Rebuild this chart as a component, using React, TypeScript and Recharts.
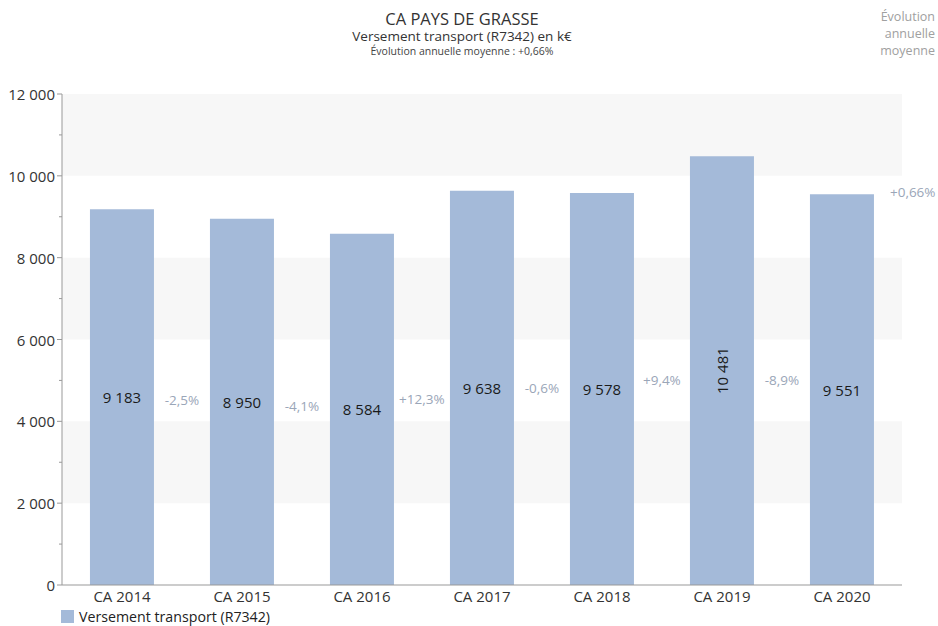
import React from 'react';
import { BarChart, Bar, XAxis, YAxis, ReferenceArea, LabelList } from 'recharts';

const categories = ['CA 2014', 'CA 2015', 'CA 2016', 'CA 2017', 'CA 2018', 'CA 2019', 'CA 2020'];
const values = [9183, 8950, 8584, 9638, 9578, 10481, 9551];
const evolutions = ['-2,5%', '-4,1%', '+12,3%', '-0,6%', '+9,4%', '-8,9%'];
const averageEvolution = '+0,66%';
const yTicks = [0, 1000, 2000, 3000, 4000, 5000, 6000, 7000, 8000, 9000, 10000, 11000, 12000];
const bands = [
  [2000, 4000],
  [6000, 8000],
  [10000, 12000],
];

const data = categories.map((name, i) => ({ name, value: values[i] }));

const FONT = '"Open Sans", "DejaVu Sans", sans-serif';
const BAR_COLOR = '#a4bad9';
const EVO_COLOR = '#9aa6b8';
const AXIS_COLOR = '#999';
const GAP = 0.233;
const TICK_SIZE = 5;
const TICK_MARGIN = 2;

const fmt = (v: number) => String(v).replace(/\B(?=(\d{3})+(?!\d))/g, ' ');

const YTick = (props: any) => {
  const { x, y, payload } = props;
  const v = payload.value as number;
  const major = v % 2000 === 0;
  const right = x + TICK_MARGIN + TICK_SIZE;
  return (
    <g>
      <line x1={right - (major ? TICK_SIZE : 3)} x2={right} y1={y} y2={y} stroke={AXIS_COLOR} />
      {major && (
        <text x={x} y={y} textAnchor="end" dominantBaseline="central" fontSize={15} fontFamily={FONT} fill="#333">
          {fmt(v)}
        </text>
      )}
    </g>
  );
};

const BarLabels = (props: any) => {
  const { x, y, width, height, value, index } = props;
  const cx = x + width / 2;
  const cy = y + height / 2;
  const text = fmt(value);
  const rotate = value >= 10000;
  const band = width / (1 - 2 * GAP);
  const bottom = y + height;
  const ppu = height / value;
  const out: React.ReactNode[] = [];
  out.push(
    <text
      key="v"
      x={cx}
      y={cy}
      textAnchor="middle"
      dominantBaseline="central"
      fontSize={15}
      fontFamily={FONT}
      fill="#1a1a1a"
      transform={rotate ? `rotate(-90 ${cx} ${cy})` : undefined}
    >
      {text}
    </text>
  );
  if (index < values.length - 1) {
    const next = values[index + 1];
    const ey = bottom - ((value + next) / 4) * ppu;
    out.push(
      <text
        key="e"
        x={cx + band / 2}
        y={ey}
        textAnchor="middle"
        dominantBaseline="central"
        fontSize={13.5}
        fontFamily={FONT}
        fill={EVO_COLOR}
      >
        {evolutions[index]}
      </text>
    );
  } else {
    out.push(
      <text
        key="a"
        x={x + width + 16}
        y={y - 2}
        textAnchor="start"
        dominantBaseline="central"
        fontSize={13.5}
        fontFamily={FONT}
        fill={EVO_COLOR}
      >
        {averageEvolution}
      </text>
    );
  }
  return <g>{out}</g>;
};

const lineStyle = (top: number, fs: number, color: string): React.CSSProperties => ({
  position: 'absolute',
  left: 212,
  width: 500,
  top,
  textAlign: 'center',
  fontSize: fs,
  lineHeight: 1,
  color,
  whiteSpace: 'nowrap',
});

const rightStyle = (top: number): React.CSSProperties => ({
  position: 'absolute',
  right: 3,
  top,
  textAlign: 'right',
  fontSize: 12.5,
  lineHeight: 1,
  color: '#a0a0a0',
  whiteSpace: 'nowrap',
});

export default function App() {
  return (
    <div style={{ position: 'absolute', left: 0, top: 0, width: 938, height: 626, background: '#fff', fontFamily: FONT }}>
      <div style={lineStyle(11, 16.5, '#333')}>CA PAYS DE GRASSE</div>
      <div style={lineStyle(30, 13.5, '#333')}>Versement transport (R7342) en k€</div>
      <div style={lineStyle(46, 10.5, '#444')}>Évolution annuelle moyenne : +0,66%</div>
      <div style={rightStyle(11)}>Évolution</div>
      <div style={rightStyle(28)}>annuelle</div>
      <div style={rightStyle(45)}>moyenne</div>
      <BarChart
        width={938}
        height={626}
        data={data}
        margin={{ top: 94, right: 36, bottom: 21, left: 0 }}
        barCategoryGap={`${GAP * 100}%`}
      >
        {bands.map(([a, b], i) => (
          <ReferenceArea key={i} y1={a} y2={b} fill="#f7f7f7" fillOpacity={1} stroke="none" ifOverflow="visible" />
        ))}
        <XAxis
          dataKey="name"
          axisLine={{ stroke: AXIS_COLOR }}
          tickLine={false}
          height={20}
          tick={{ fontSize: 15, fill: '#333', fontFamily: FONT }}
          tickMargin={0}
        />
        <YAxis
          width={62}
          domain={[0, 12000]}
          ticks={yTicks}
          interval={0}
          axisLine={{ stroke: AXIS_COLOR }}
          tickLine={false}
          tickSize={TICK_SIZE}
          tickMargin={TICK_MARGIN}
          tick={<YTick />}
        />
        <Bar dataKey="value" fill={BAR_COLOR} isAnimationActive={false}>
          <LabelList dataKey="value" content={BarLabels} />
        </Bar>
      </BarChart>
      <div style={{ position: 'absolute', left: 61, top: 607, display: 'flex', alignItems: 'center', fontSize: 14.2, color: '#222' }}>
        <span style={{ display: 'inline-block', width: 13, height: 13, background: BAR_COLOR, marginRight: 5 }} />
        <span>Versement transport (R7342)</span>
      </div>
    </div>
  );
}
